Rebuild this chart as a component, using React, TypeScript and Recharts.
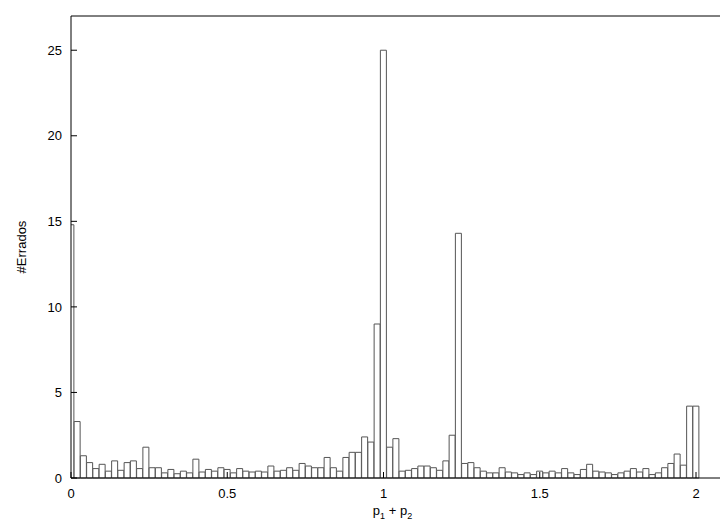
import { Bar, BarChart, Label, XAxis, YAxis } from "recharts";

// bin centres (p1 + p2), width 0.02
const binX = [
  0, 0.02, 0.04, 0.06, 0.08, 0.1, 0.12, 0.14, 0.16, 0.18,
  0.2, 0.22, 0.24, 0.26, 0.28, 0.3, 0.32, 0.34, 0.36, 0.38,
  0.4, 0.42, 0.44, 0.46, 0.48, 0.5, 0.52, 0.54, 0.56, 0.58,
  0.6, 0.62, 0.64, 0.66, 0.68, 0.7, 0.72, 0.74, 0.76, 0.78,
  0.8, 0.82, 0.84, 0.86, 0.88, 0.9, 0.92, 0.94, 0.96, 0.98,
  1, 1.02, 1.04, 1.06, 1.08, 1.1, 1.12, 1.14, 1.16, 1.18,
  1.2, 1.22, 1.24, 1.26, 1.28, 1.3, 1.32, 1.34, 1.36, 1.38,
  1.4, 1.42, 1.44, 1.46, 1.48, 1.5, 1.52, 1.54, 1.56, 1.58,
  1.6, 1.62, 1.64, 1.66, 1.68, 1.7, 1.72, 1.74, 1.76, 1.78,
  1.8, 1.82, 1.84, 1.86, 1.88, 1.9, 1.92, 1.94, 1.96, 1.98,
  2,
];

// #Errados per bin
const errados = [
  14.8, 3.3, 1.3, 0.9, 0.55, 0.8, 0.4, 1.0, 0.45, 0.9,
  1.0, 0.55, 1.8, 0.6, 0.6, 0.3, 0.5, 0.25, 0.4, 0.3,
  1.1, 0.35, 0.5, 0.4, 0.6, 0.5, 0.3, 0.55, 0.4, 0.35,
  0.4, 0.35, 0.7, 0.4, 0.45, 0.6, 0.45, 0.85, 0.7, 0.6,
  0.6, 1.2, 0.6, 0.4, 1.2, 1.5, 1.5, 2.4, 2.1, 9.0,
  25, 1.8, 2.3, 0.4, 0.45, 0.55, 0.7, 0.7, 0.6, 0.45,
  1.0, 2.5, 14.3, 0.85, 0.9, 0.6, 0.4, 0.3, 0.3, 0.6,
  0.35, 0.3, 0.2, 0.3, 0.2, 0.4, 0.3, 0.4, 0.3, 0.55,
  0.3, 0.2, 0.5, 0.8, 0.4, 0.35, 0.3, 0.2, 0.3, 0.4,
  0.55, 0.35, 0.55, 0.2, 0.3, 0.6, 0.85, 1.4, 0.75, 4.2,
  4.2,
];

const xTicks = [0, 0.5, 1, 1.5, 2];
const yTicks = [0, 5, 10, 15, 20, 25];

const data = binX.map((x, i) => ({ x, n: errados[i] }));

const FONT = "'Liberation Sans', Arial, sans-serif";

function XLabel(props: any) {
  const vb = props.viewBox || { x: 71, y: 478, width: 649 };
  const cx = vb.x + vb.width / 2 - 3;
  const y = vb.y + 37;
  return (
    <text x={cx} y={y} textAnchor="middle" fontSize={13} fontFamily={FONT} fill="#000">
      p
      <tspan fontSize={9} dy={4}>1</tspan>
      <tspan fontSize={13} dy={-4}>{" + p"}</tspan>
      <tspan fontSize={9} dy={4}>2</tspan>
    </text>
  );
}

export default function App() {
  return (
    <div style={{ width: 720, height: 523, fontFamily: FONT, background: "#fff" }}>
      <style>{"body{margin:0}"}</style>
      <BarChart
        width={720}
        height={523}
        data={data}
        margin={{ top: 15, right: 0, bottom: 15, left: 11 }}
        barCategoryGap={0}
        barGap={0}
      >
        <XAxis
          xAxisId="b"
          type="number"
          dataKey="x"
          domain={[0, 2.0768]}
          allowDataOverflow
          ticks={xTicks}
          tickSize={-6}
          tickMargin={17}
          height={30}
          stroke="#000"
          tick={{ fill: "#000", fontSize: 13 }}
        >
          <Label content={XLabel} />
        </XAxis>
        <XAxis
          xAxisId="t"
          orientation="top"
          type="number"
          dataKey="x"
          domain={[0, 2.0768]}
          allowDataOverflow
          ticks={xTicks}
          tickSize={-6}
          tick={false}
          height={1}
          stroke="#000"
        />
        <YAxis
          type="number"
          domain={[0, 27]}
          ticks={yTicks}
          tickSize={-6}
          tickMargin={15}
          width={60}
          stroke="#000"
          tick={{ fill: "#000", fontSize: 13 }}
          label={{
            value: "#Errados",
            angle: -90,
            position: "insideLeft",
            offset: 10,
            style: { textAnchor: "middle", fill: "#000", fontSize: 13 },
          }}
        />
        <Bar
          xAxisId="b"
          dataKey="n"
          fill="#fff"
          stroke="#555"
          strokeWidth={1}
          isAnimationActive={false}
        />
      </BarChart>
    </div>
  );
}
